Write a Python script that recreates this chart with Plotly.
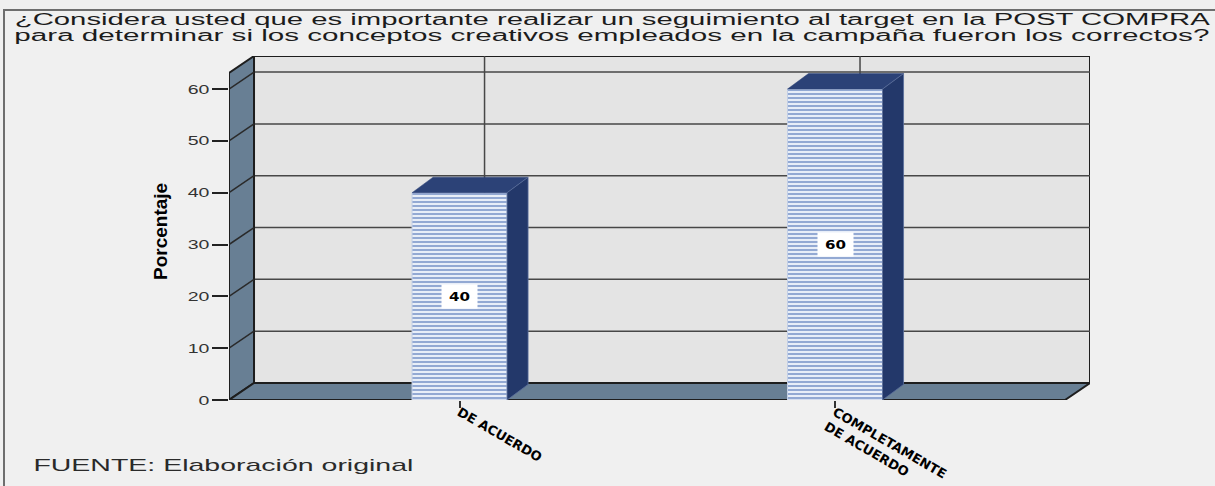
import json
import plotly.graph_objects as go

# ---- data -------------------------------------------------------------
categories = ["DE ACUERDO", "COMPLETAMENTE<br>DE ACUERDO"]
percentages = [40, 60]
y_ticks = [0, 10, 20, 30, 40, 50, 60]

title_lines = [
    "¿Considera usted que es importante realizar un seguimiento al target en la POST COMPRA",
    "para determinar si los conceptos creativos empleados en la campaña fueron los correctos?",
]
y_title = "Porcentaje"
source_note = "FUENTE: Elaboración original"

# ---- geometry of the pseudo-3D box ------------------------------------
W, H = 1215, 486
M_L, M_R, M_T, M_B = 229, 125, 56, 86
PLOT_W = W - M_L - M_R
PLOT_H = H - M_T - M_B

X_MIN, X_FRONT_MAX = -0.614, 1.6125      # front edge of floor
WALL_DX, WALL_DY = 0.0666, 3.28           # depth of walls (x units, y units)
Y_TOP_FRONT = 63.1                        # top of side wall, front edge
X_MAX = X_FRONT_MAX + WALL_DX
Y_MAX = Y_TOP_FRONT + WALL_DY

BAR_W = 0.253
BAR_DX, BAR_DY = 0.056, 3.0

BG = "#f0f0f0"
WALL = "#e4e4e4"
SLATE = "#687f94"
EDGE = "#1e1e1e"
GRID = "#474747"
NAVY_TOP = "#2c4277"
NAVY_SIDE = "#23386a"


def paper_x(px):
    return (px - M_L) / PLOT_W


def paper_y(py):
    return (H - M_B - py) / PLOT_H


xs = list(range(len(categories)))

fig = go.Figure()

# front faces of the bars (striped)
fig.add_trace(
    go.Bar(
        x=xs,
        y=percentages,
        width=BAR_W,
        marker=dict(
            color="#e8eef8",
            line=dict(color="#c3cfe6", width=1),
            pattern=dict(shape="-", fgcolor="#93a9d3", bgcolor="#e8eef8",
                         size=4, solidity=0.5, fillmode="replace"),
        ),
        hoverinfo="skip",
        showlegend=False,
    )
)

shapes = []

# back wall
shapes.append(dict(type="rect", xref="x", yref="y",
                   x0=X_MIN + WALL_DX, x1=X_MAX, y0=WALL_DY, y1=Y_MAX,
                   fillcolor=WALL, line=dict(color=EDGE, width=2), layer="below"))
# horizontal grid on back wall
for v in y_ticks[1:]:
    shapes.append(dict(type="line", xref="x", yref="y",
                       x0=X_MIN + WALL_DX, x1=X_MAX, y0=v + WALL_DY, y1=v + WALL_DY,
                       line=dict(color=GRID, width=1.5), layer="below"))
# category lines on back wall
for x in xs:
    shapes.append(dict(type="line", xref="x", yref="y",
                       x0=x + WALL_DX, x1=x + WALL_DX, y0=WALL_DY, y1=Y_MAX,
                       line=dict(color=GRID, width=1.5), layer="below"))
# left side wall
shapes.append(dict(type="path", xref="x", yref="y",
                   path=(f"M {X_MIN},0 L {X_MIN},{Y_TOP_FRONT} "
                         f"L {X_MIN + WALL_DX},{Y_MAX} L {X_MIN + WALL_DX},{WALL_DY} Z"),
                   fillcolor=SLATE, line=dict(color=EDGE, width=2), layer="below"))
for v in y_ticks[1:]:
    shapes.append(dict(type="line", xref="x", yref="y",
                       x0=X_MIN, x1=X_MIN + WALL_DX, y0=v, y1=v + WALL_DY,
                       line=dict(color="#2a2a2a", width=1.5), layer="below"))
# floor
shapes.append(dict(type="path", xref="x", yref="y",
                   path=(f"M {X_MIN},0 L {X_FRONT_MAX},0 L {X_MAX},{WALL_DY} "
                         f"L {X_MIN + WALL_DX},{WALL_DY} Z"),
                   fillcolor=SLATE, line=dict(color=EDGE, width=2), layer="below"))

# top and side faces of each bar
for x, v in zip(xs, percentages):
    x0, x1 = x - BAR_W / 2, x + BAR_W / 2
    shapes.append(dict(type="path", xref="x", yref="y",
                       path=(f"M {x0},{v} L {x1},{v} L {x1 + BAR_DX},{v + BAR_DY} "
                             f"L {x0 + BAR_DX},{v + BAR_DY} Z"),
                       fillcolor=NAVY_TOP, line=dict(color=NAVY_TOP, width=0.5), layer="above"))
    shapes.append(dict(type="path", xref="x", yref="y",
                       path=(f"M {x1},0 L {x1},{v} L {x1 + BAR_DX},{v + BAR_DY} "
                             f"L {x1 + BAR_DX},{BAR_DY} Z"),
                       fillcolor=NAVY_SIDE, line=dict(color="#5a6f9c", width=0.8), layer="above"))

# outer frame (top and left edges)
shapes.append(dict(type="path", xref="paper", yref="paper",
                   path=(f"M {paper_x(4)},{paper_y(492)} L {paper_x(4)},{paper_y(10)} "
                         f"L {paper_x(1222)},{paper_y(10)}"),
                   line=dict(color="#6e6e6e", width=2)))

annotations = []
for x, v in zip(xs, percentages):
    annotations.append(dict(x=x, y=v / 2, xref="x", yref="y", text=str(v),
                            showarrow=False, bgcolor="white", width=33, height=21,
                            font=dict(family="DejaVu Sans", size=12, color="black",
                                      weight="bold")))
for line, py in zip(title_lines, [19, 36]):
    annotations.append(dict(x=paper_x(612), y=paper_y(py), xref="paper", yref="paper",
                            text=line, showarrow=False, xanchor="center", yanchor="middle",
                            font=dict(family="Liberation Sans", size=16, color="#1c1c1c")))
# source note: centred on its final (widened) extent, 33 px .. 413 px
annotations.append(dict(x=paper_x(223), y=paper_y(466), xref="paper", yref="paper",
                        text=source_note, showarrow=False, xanchor="center", yanchor="middle",
                        font=dict(family="Liberation Sans", size=17, color="#2a2a2a")))
annotations.append(dict(x=paper_x(160), y=paper_y(232), xref="paper", yref="paper",
                        text=y_title, showarrow=False, textangle=-90,
                        xanchor="center", yanchor="middle",
                        font=dict(family="Liberation Sans", size=19, color="black",
                                  weight="bold")))

fig.update_layout(
    width=W, height=H, autosize=False,
    margin=dict(l=M_L, r=M_R, t=M_T, b=M_B, pad=0, autoexpand=False),
    paper_bgcolor=BG, plot_bgcolor="rgba(0,0,0,0)",
    shapes=shapes, annotations=annotations,
    showlegend=False,
    xaxis=dict(range=[X_MIN, X_MAX], tickvals=xs, ticktext=categories, automargin=False,
               tickangle=30, ticks="outside", ticklen=7, tickwidth=1.5, tickcolor="#333",
               ticklabelstandoff=-8,
               showgrid=False, zeroline=False, showline=False, fixedrange=True,
               tickfont=dict(family="DejaVu Sans", size=13, color="black", weight="bold")),
    yaxis=dict(range=[0, Y_MAX], tickvals=y_ticks, ticks="outside", ticklen=16,
               tickwidth=2, tickcolor="#222", showgrid=False, zeroline=False,
               showline=False, fixedrange=True, automargin=False,
               tickfont=dict(family="Liberation Sans", size=13, color="#333")),
)

# widen the horizontal texts to the proportions of the printed chart
text_widths = {title_lines[0]: 1195, title_lines[1]: 1195, source_note: 380}
for v in percentages:
    text_widths[str(v)] = 21
stretch_js = """
var gd = document.getElementById('{plot_id}');
var widths = %s;
gd.querySelectorAll('text.annotation-text').forEach(function (t) {
  var w = widths[t.textContent];
  if (w) { t.setAttribute('textLength', w); t.setAttribute('lengthAdjust', 'spacingAndGlyphs'); }
});
gd.querySelectorAll('.ytick text').forEach(function (t) {
  t.setAttribute('textLength', t.getComputedTextLength() * 1.5);
  t.setAttribute('lengthAdjust', 'spacingAndGlyphs');
});
""" % json.dumps(text_widths)

fig.write_html("out.html", post_script=stretch_js, config={"displayModeBar": False})
